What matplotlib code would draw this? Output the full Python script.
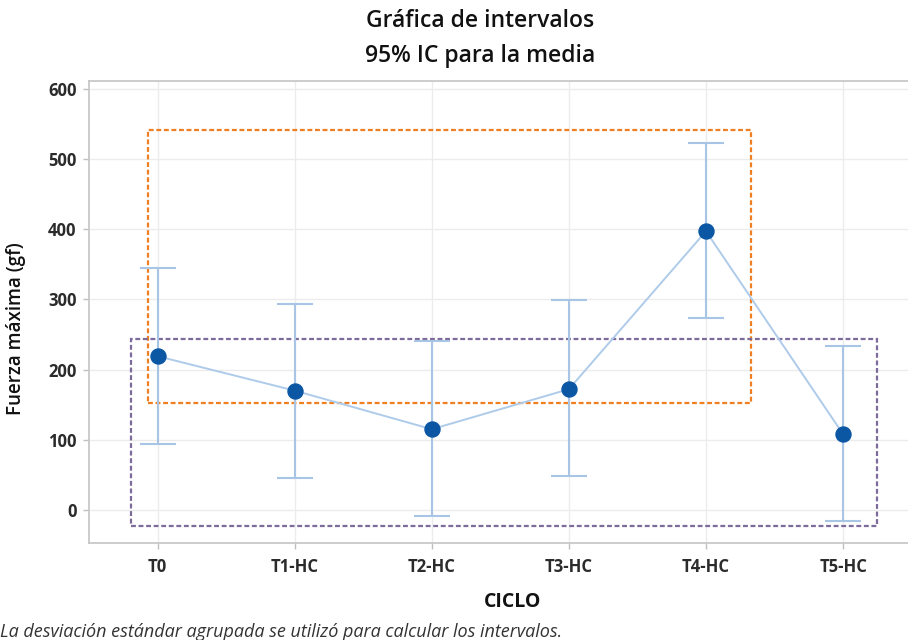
import matplotlib
matplotlib.use("Agg")
import matplotlib.pyplot as plt
from matplotlib.patches import Rectangle

# Interval plot data: group means and 95% CI bounds (gf)
ciclos = ["T0", "T1-HC", "T2-HC", "T3-HC", "T4-HC", "T5-HC"]
medias = [219, 170, 115, 172, 397, 108]
ic_inf = [94, 46, -9, 48, 273, -16]
ic_sup = [345, 293, 241, 299, 523, 234]

y_ticks = [0, 100, 200, 300, 400, 500, 600]

# Highlighted groupings: (x0, x1, y0, y1) in category / data units
grupo_alto = (-0.066, 4.33, 153, 541)
grupo_bajo = (-0.19, 5.25, -23, 244)

plt.rcParams["font.family"] = ["Open Sans", "DejaVu Sans"]

fig = plt.figure(figsize=(9.08, 6.4), dpi=100)
ax = fig.add_axes([0.098, 0.1516, 0.906, 0.7219])

x = list(range(len(ciclos)))
err_lo = [m - lo for m, lo in zip(medias, ic_inf)]
err_hi = [hi - m for m, hi in zip(medias, ic_sup)]

bar_col = "#a9c5e6"
ax.errorbar(x, medias, yerr=[err_lo, err_hi], fmt="none", ecolor=bar_col,
            elinewidth=1.5, capsize=13, capthick=1.5, zorder=3)
ax.plot(x, medias, color="#afcbea", lw=1.4, zorder=4)
ax.plot(x, medias, "o", color="#0b57a4", markersize=10.8, zorder=5)

# Dashed group boxes
for (x0, x1, y0, y1), col in [(grupo_alto, "#f07f22"), (grupo_bajo, "#7d6b9c")]:
    ax.add_patch(Rectangle((x0, y0), x1 - x0, y1 - y0, fill=False,
                           edgecolor=col, lw=1.6, ls=(0, (2.2, 1.2)), zorder=2))

ax.set_xlim(-0.5, 5.5)
ax.set_ylim(-47, 611)
ax.set_xticks(x)
ax.set_xticklabels(ciclos)
ax.set_yticks(y_ticks)
ax.grid(True, color="#ececec", lw=1.0, zorder=0)
ax.set_axisbelow(True)

for side in ["left", "bottom", "top"]:
    ax.spines[side].set_color("#c8c8c8")
    ax.spines[side].set_linewidth(1.3)
ax.spines["right"].set_visible(False)

ax.tick_params(axis="both", colors="#c0c0c0", length=4, width=1,
               labelcolor="#2b2b2b", labelsize=12)
for lbl in ax.get_xticklabels() + ax.get_yticklabels():
    lbl.set_fontweight("bold")
ax.tick_params(axis="x", pad=7)
ax.tick_params(axis="y", pad=5)

ax.set_ylabel("Fuerza máxima (gf)", fontsize=13.5, fontweight="semibold",
              color="#111111")
ax.yaxis.set_label_coords(-0.077, 0.465)

fig.text(0.564, 0.059, "CICLO", ha="center", va="center", fontsize=14,
         fontweight="bold", color="#111111")
fig.text(0.529, 0.967, "Gráfica de intervalos", ha="center", va="center",
         fontsize=16.5, fontweight="semibold", color="#111111")
fig.text(0.529, 0.913, "95% IC para la media", ha="center", va="center",
         fontsize=16.5, fontweight="semibold", color="#111111")
fig.text(0.0, 0.013, "La desviación estándar agrupada se utilizó para calcular los intervalos.",
         ha="left", va="center", fontsize=13, style="italic", color="#333333")

fig.savefig("out.png", dpi=100)
